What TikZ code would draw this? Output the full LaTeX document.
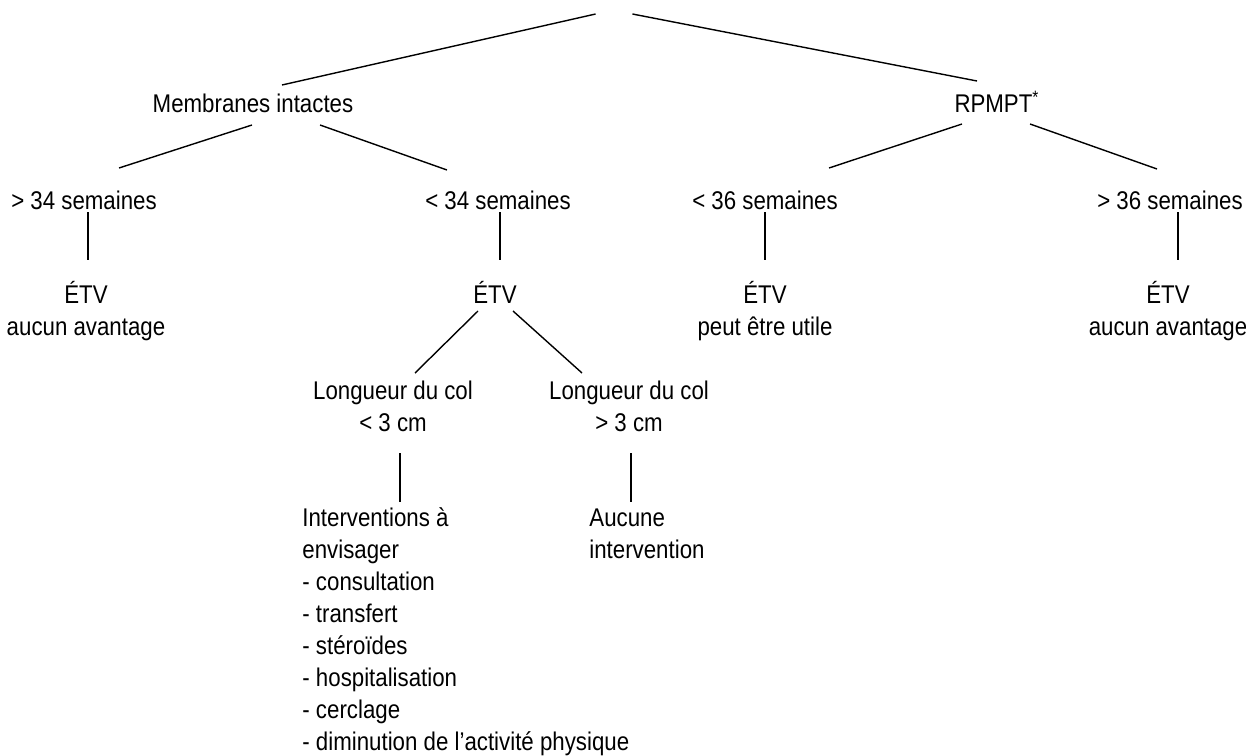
\documentclass[tikz,border=0pt]{standalone}
\usepackage{fontspec}
\setmainfont[FakeStretch=0.87]{Liberation Sans}
\usetikzlibrary{calc}

\begin{document}
\begin{tikzpicture}
[
	x						= 0.5pt,
	y						= -0.5pt,
	%
	% every text of the tree
	branch/.style			=
	{
		inner sep			= 0pt,
		anchor				= base,
		font				= \fontsize{12.8pt}{16pt}\selectfont,
		align				= center
	},
	list/.style				=
	{
		branch,
		anchor				= base west,
		align				= left
	},
	link/.style				=
	{
		line width			= 0.7pt
	},
]
	\useasboundingbox (0,0) rectangle (1246,755);

	\node (root) [minimum width = 18pt, inner sep = 0pt] at (614,14) {};

	\node (memb)  [branch] at (253,112) {Membranes intactes};
	\node (rpmpt) [branch] at (997,112) {RPMPT\textsuperscript{*}};

	\node (gt34) [branch] at (84,209)   {> 34 semaines};
	\node (lt34) [branch] at (498,209)  {< 34 semaines};
	\node (lt36) [branch] at (765,209)  {< 36 semaines};
	\node (gt36) [branch] at (1170,209) {> 36 semaines};

	% base = last line of the node
	\node (etvA) [branch] at (86,335)   {ÉTV\\aucun avantage};
	\node (etvB) [branch] at (495,303)  {ÉTV};
	\node (etvC) [branch] at (765,335)  {ÉTV\\peut être utile};
	\node (etvD) [branch] at (1168,335) {ÉTV\\aucun avantage};

	\node (colA) [branch] at (393,431) {Longueur du col\\< 3 cm};
	\node (colB) [branch] at (629,431) {Longueur du col\\> 3 cm};

	\node (todo) [list] at (302,750) {Interventions à\\envisager\\- consultation\\- transfert\\- stéroïdes\\- hospitalisation\\- cerclage\\- diminution de l’activité physique};
	\node (none) [list] at (589,558) {Aucune\\intervention};

	% branches
	\draw [link] (root.west) -- ($(memb.base)+(29,-27)$);
	\draw [link] (root.east) -- ($(rpmpt.base)+(-20,-31)$);
	\draw [link] ($(memb.base)+(-1,13)$) -- ($(gt34.base)+(35,-41)$);
	\draw [link] ($(memb.base)+(67,13)$) -- ($(lt34.base)+(-51,-39)$);
	\draw [link] ($(rpmpt.base)+(-35,12)$) -- ($(lt36.base)+(64,-41)$);
	\draw [link] ($(rpmpt.base)+(33,12)$) -- ($(gt36.base)+(-13,-40)$);

	\draw [link] ($(gt34.base)+(4,3)$) -- ($(etvA.base)+(2,-75)$);
	\draw [link] ($(lt34.base)+(2,3)$) -- ($(etvB.base)+(5,-43)$);
	\draw [link] ($(lt36.base)+(0,3)$) -- ($(etvC.base)+(0,-75)$);
	\draw [link] ($(gt36.base)+(8,3)$) -- ($(etvD.base)+(10,-75)$);

	\draw [link] ($(etvB.base)+(-17,8)$) -- ($(colA.base)+(22,-58)$);
	\draw [link] ($(etvB.base)+(18,8)$) -- ($(colB.base)+(-47,-58)$);

	\draw [link] ($(colA.base)+(7,22)$) -- ($(todo.base west)+(98,-248)$);
	\draw [link] ($(colB.base)+(2,22)$) -- ($(none.base west)+(42,-56)$);

\end{tikzpicture}
\end{document}
